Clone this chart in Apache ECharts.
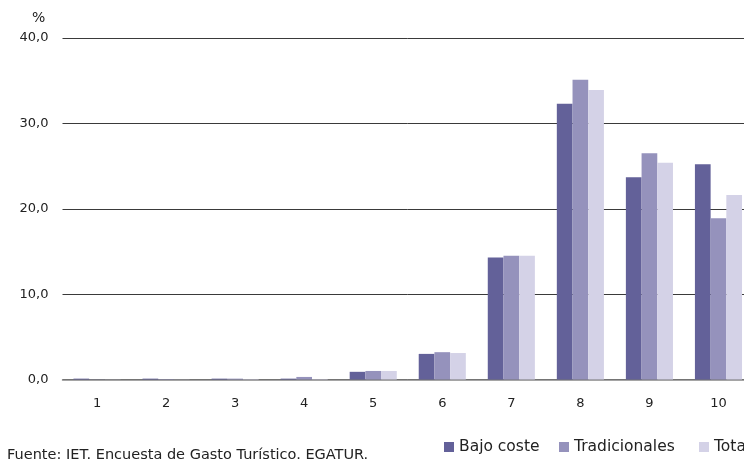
<!DOCTYPE html>
<html><head><meta charset="utf-8">
<script src="https://cdn.jsdelivr.net/npm/echarts@6/dist/echarts.min.js"></script>
<style>html,body{margin:0;padding:0;background:#fff;overflow:hidden;width:744px;height:461px}#c{width:753px;height:461px}</style>
</head><body><div id="c"></div>
<script>
var categories = ['1','2','3','4','5','6','7','8','9','10'];
var bajoCoste = [0.1, 0.1, 0.1, 0.1, 0.9, 3.0, 14.3, 32.3, 23.7, 25.2];
var tradicionales = [0.02, 0.05, 0.1, 0.3, 1.0, 3.2, 14.5, 35.1, 26.5, 18.9];
var total = [0.02, 0.02, 0.05, 0.05, 1.0, 3.1, 14.5, 33.9, 25.4, 21.6];
var seriesNames = ['Bajo coste', 'Tradicionales', 'Total'];
var yTicks = {min: 0, max: 40, interval: 10};
var sourceText = 'Fuente: IET. Encuesta de Gasto Turístico. EGATUR.';

var font = 'DejaVu Sans';
var colors = ['#636199', '#9592BC', '#D4D2E7'];
var legendLefts = [444, 559, 699];
var chart = echarts.init(document.getElementById('c'), null, {renderer: 'canvas'});
function mk(name, data, i) {
  return {name: name, type: 'bar', data: data, barWidth: 15.7, barGap: '0%',
    itemStyle: {color: colors[i]}, animation: false};
}
chart.setOption({
  animation: false,
  grid: {left: 62.5, right: 0, top: 38, bottom: 81.5, containLabel: false},
  legend: seriesNames.map(function(n, i){
    return {left: legendLefts[i], top: 439, padding: 0, width: 200, itemWidth: 10, itemHeight: 10,
      icon: 'rect', textStyle: {fontFamily: font, fontSize: 15.5, color: '#222'}, data: [n]};
  }),
  graphic: [
    {type: 'text', left: 7, top: 448, style: {text: sourceText, fontFamily: font, fontSize: 14.5, fill: '#222'}},
    {type: 'text', left: 32, top: 11, style: {text: '%', fontFamily: font, fontSize: 14, fill: '#222'}}
  ],
  xAxis: {type: 'category', data: categories,
    axisLine: {lineStyle: {color: '#888', width: 1.5}}, axisTick: {show: false},
    axisLabel: {fontFamily: font, fontSize: 13, color: '#222', margin: 18}},
  yAxis: {type: 'value', min: yTicks.min, max: yTicks.max, interval: yTicks.interval,
    axisLine: {show: false}, axisTick: {show: false},
    splitLine: {lineStyle: {color: '#3a3a3a', width: 1}},
    axisLabel: {fontFamily: font, fontSize: 13, color: '#222', margin: 14,
      formatter: function(v){ return v.toFixed(1).replace('.', ','); }}},
  series: [mk(seriesNames[0], bajoCoste, 0), mk(seriesNames[1], tradicionales, 1), mk(seriesNames[2], total, 2)]
});
</script></body></html>
